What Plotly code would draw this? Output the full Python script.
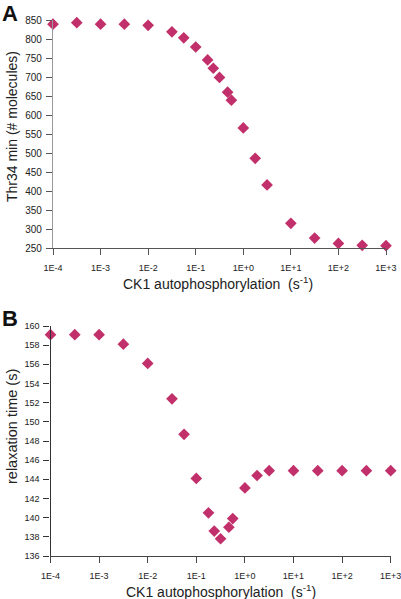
import plotly.graph_objects as go

W, H = 401, 599

# Shared x values (CK1 autophosphorylation rate, s^-1)
rate = [1e-4, 3.16e-4, 1e-3, 3.16e-3, 1e-2, 3.16e-2, 5.6e-2, 0.1, 0.178, 0.234,
        0.316, 0.468, 0.562, 1.0, 1.78, 3.16, 10, 31.6, 100, 316, 1000]

# Panel A: Thr34 min (# molecules)
thr34_min = [839, 843, 839, 839, 836, 819, 803, 779, 745, 723,
             699, 660, 639, 566, 486, 416, 315, 276, 262, 257, 256]

# Panel B: relaxation time (s)
relax_time = [159.1, 159.1, 159.1, 158.1, 156.1, 152.4, 148.7, 144.1, 140.5, 138.6,
              137.8, 139.0, 139.9, 143.1, 144.4, 144.9, 144.9, 144.9, 144.9, 144.9, 144.9]

xtick_vals = [1e-4, 1e-3, 1e-2, 1e-1, 1, 10, 100, 1000]
xtick_text = ["1E-4", "1E-3", "1E-2", "1E-1", "1E+0", "1E+1", "1E+2", "1E+3"]
ytick_a = list(range(250, 851, 50))
ytick_b = list(range(136, 161, 2))

marker_color = "#C2306B"
font_family = "Liberation Sans, Arial, sans-serif"

fig = go.Figure()
fig.add_trace(go.Scatter(x=rate, y=thr34_min, mode="markers",
                         marker=dict(symbol="diamond", size=9, color=marker_color),
                         xaxis="x", yaxis="y", cliponaxis=False, showlegend=False))
fig.add_trace(go.Scatter(x=rate, y=relax_time, mode="markers",
                         marker=dict(symbol="diamond", size=9, color=marker_color),
                         xaxis="x2", yaxis="y2", cliponaxis=False, showlegend=False))

def px_x(p):
    return p / W

def px_y(p):
    return 1 - p / H

xcommon = dict(type="log", tickvals=xtick_vals, ticktext=xtick_text, automargin=False,
               ticks="outside", ticklen=6, ticklabelstandoff=5, ticklabeloverflow="allow",
               showgrid=False, zeroline=False,
               showline=True, linewidth=1.2, tickfont=dict(size=9, color="#222"))
ycommon = dict(ticks="outside", ticklen=6, ticklabelstandoff=2, showgrid=False,
               zeroline=False, showline=True, linewidth=1.2, automargin=False,
               ticklabeloverflow="allow")

fig.update_layout(
    template="none",
    width=W, height=H,
    margin=dict(l=0, r=0, t=0, b=0, autoexpand=False),
    paper_bgcolor="white", plot_bgcolor="white",
    font=dict(family=font_family, color="#222"),
    xaxis=dict(domain=[px_x(53), px_x(386)], range=[-4, 3], anchor="y",
               linecolor="#555", tickcolor="#555", **xcommon),
    yaxis=dict(domain=[px_y(248), px_y(20)], range=[250, 850], anchor="x",
               tickvals=ytick_a, linecolor="#999", tickcolor="#555",
               tickfont=dict(size=10, color="#222"), **ycommon),
    xaxis2=dict(domain=[px_x(50.5), px_x(390.7)], range=[-4, 3], anchor="y2",
                linecolor="#444", tickcolor="#444", **xcommon),
    yaxis2=dict(domain=[px_y(556), px_y(326)], range=[136, 160], anchor="x2",
                tickvals=ytick_b, linecolor="#333", tickcolor="#333",
                tickfont=dict(size=9, color="#222"), **ycommon),
)

def add_ann(text, x, y, size, angle=0, color="#222", yanchor="middle", pad=1):
    return dict(text=text, x=px_x(x), y=px_y(y), xref="paper", yref="paper",
                xanchor="center", yanchor=yanchor, showarrow=False, borderpad=pad,
                textangle=angle, font=dict(size=size, color=color))

ann = [
    add_ann("<b>A</b>", 10, 0, 22, color="#111", yanchor="top", pad=0),
    add_ann("<b>B</b>", 10, 318, 22, color="#111"),
    add_ann("Thr34 min (# molecules)", 12, 127, 14, angle=-90),
    add_ann("relaxation time (s)", 12, 427, 14.5, angle=-90),
    add_ann("CK1 autophosphorylation  (s<sup>-1</sup>)", 218, 283, 14),
    add_ann("CK1 autophosphorylation  (s<sup>-1</sup>)", 221, 591, 14),
]
fig.update_layout(annotations=ann)

fig.write_html("out.html",
               config={"displayModeBar": False},
               post_script="document.body.style.margin='0';document.body.style.overflow='hidden';")
